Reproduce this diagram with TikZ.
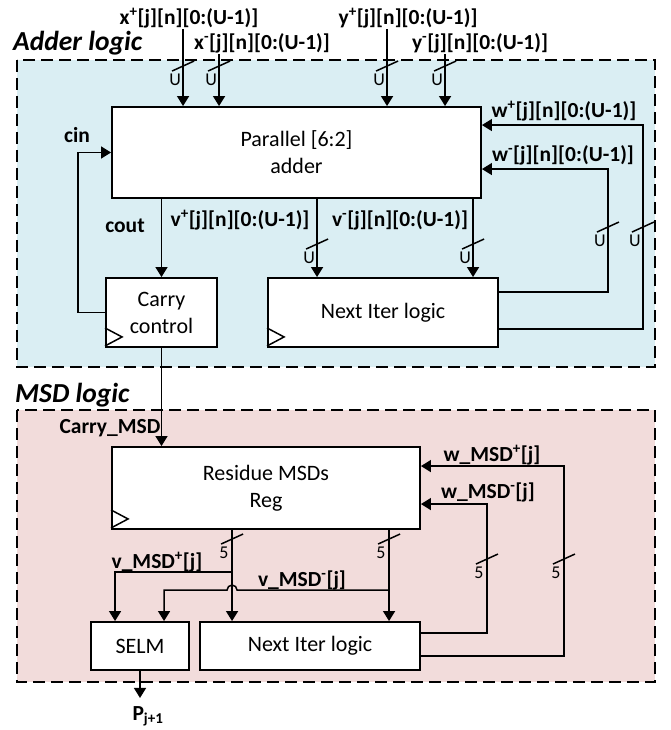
\documentclass[tikz,border=0pt]{standalone}
\usepackage{fontspec}
\setmainfont{Carlito}
\usetikzlibrary{arrows.meta,calc}
\definecolor{adderbg}{HTML}{DAEEF3}
\definecolor{msdbg}{HTML}{F2DCDB}
% bus width mark: pin coordinate, y offset, width text
\newcommand{\busw}[3]{%
  \draw[wire] ($(#1)+(0,#2)+(-11,5)$) -- ++(22,-10);
  \node[wd] at ($(#1)+(0,#2)+(-8,14)$) {#3};}
\newcommand{\clk}[1]{\draw[wire] (#1.south west) ++(0,-2) -- ++(17,-9) -- ++(-17,-9);}

\begin{document}
\begin{tikzpicture}[x=1pt,y=-1pt,
    blk/.style={draw,line width=1.9pt,fill=white,align=center,inner sep=0pt,
      font=\fontsize{22}{27}\selectfont},
    wire/.style={line width=1.5pt},
    sig/.style={wire,-{Triangle[length=10pt,width=12pt]}},
    lbl/.style={font=\bfseries\fontsize{21.5}{25}\selectfont,inner sep=1pt},
    wd/.style={font=\fontsize{18}{20}\selectfont,inner sep=0pt},
    zone/.style={draw,line width=1.4pt,dash pattern=on 12pt off 6pt},
    ttl/.style={font=\bfseries\itshape\fontsize{27.5}{30}\selectfont,anchor=west,inner sep=0pt}]
    \useasboundingbox (0,0) rectangle (670,730);

    % regions
    \draw[zone,fill=adderbg] (17,60) rectangle (655,367);
    \draw[zone,fill=msdbg] (17,410) rectangle (655,682);
    \node[ttl] (addttl) at (13,43) {Adder logic};
    \node[ttl] (msdttl) at (15,395) {MSD logic};

    % adder logic blocks
    \node[blk,minimum width=369,minimum height=91] (adder) at (296.5,152.5) {Parallel [6:2]\\adder};
    \node[blk,minimum width=111,minimum height=69] (carry) at (161.5,312.5) {Carry\\control};
    \node[blk,minimum width=230,minimum height=69] (nxt) at (383,312.5) {Next Iter logic};
    \clk{carry}
    \clk{nxt}

    % MSD logic blocks
    \node[blk,minimum width=308,minimum height=82] (res) at (266,488) {Residue MSDs\\Reg};
    \node[blk,minimum width=98,minimum height=48] (selm) at (140,646) {SELM};
    \node[blk,minimum width=220,minimum height=48] (nxt2) at (310,646) {Next Iter logic};
    \clk{res}

    % inputs
    \node[lbl] (xplbl) at (189,18) {x\textsuperscript{+}[j][n][0:(U-1)]};
    \node[lbl] (xmlbl) at (262,43) {x\textsuperscript{-}[j][n][0:(U-1)]};
    \node[lbl] (yplbl) at (408,18) {y\textsuperscript{+}[j][n][0:(U-1)]};
    \node[lbl] (ymlbl) at (480,43) {y\textsuperscript{-}[j][n][0:(U-1)]};
    \coordinate (xpin) at ($(adder.north west)+(72,0)$);
    \coordinate (xmin) at ($(adder.north west)+(108,0)$);
    \coordinate (ypin) at ($(adder.north west)+(276,0)$);
    \coordinate (ymin) at ($(adder.north west)+(334,0)$);
    \draw[sig] (xplbl.south -| xpin) -- (xpin);
    \draw[sig] (xmlbl.south -| xmin) -- (xmin);
    \draw[sig] (yplbl.south -| ypin) -- (ypin);
    \draw[sig] (ymlbl.south -| ymin) -- (ymin);
    \busw{xpin}{-40}{U}
    \busw{xmin}{-40}{U}
    \busw{ypin}{-40}{U}
    \busw{ymin}{-40}{U}

    % carry loop
    \node[lbl] (cinlbl) at (77,135) {cin};
    \node[lbl] (coutlbl) at (125,226) {cout};
    \draw[sig] (carry.west) -- ++(-27,0) |- (adder.west);
    \draw[sig] (adder.south -| carry.north) -- (carry.north);

    % adder outputs
    \node[lbl] (vplbl) at (240,220) {v\textsuperscript{+}[j][n][0:(U-1)]};
    \node[lbl] (vmlbl) at (400,220) {v\textsuperscript{-}[j][n][0:(U-1)]};
    \coordinate (vpin) at ($(nxt.north west)+(50,0)$);
    \coordinate (vmin) at ($(nxt.north west)+(206,0)$);
    \draw[sig] (adder.south -| vpin) -- (vpin);
    \draw[sig] (adder.south -| vmin) -- (vmin);
    \busw{vpin}{-33}{U}
    \busw{vmin}{-33}{U}

    % feedback w
    \node[lbl] (wplbl) at (564,111) {w\textsuperscript{+}[j][n][0:(U-1)]};
    \node[lbl] (wmlbl) at (563,155) {w\textsuperscript{-}[j][n][0:(U-1)]};
    \coordinate (wpin) at ($(adder.north east)+(0,19)$);
    \coordinate (wmin) at ($(adder.north east)+(0,63)$);
    \coordinate (wmout) at ($(nxt.north east)+(0,15)$);
    \coordinate (wpout) at ($(nxt.north east)+(0,52)$);
    \coordinate (wmturn) at ($(wmout)+(109,0)$);
    \coordinate (wpturn) at ($(wpout)+(144,0)$);
    \draw[sig] (wmout) -- (wmturn) |- (wmin);
    \draw[sig] (wpout) -- (wpturn) |- (wpin);
    \busw{wmturn}{-65}{U}
    \busw{wpturn}{-102}{U}

    % carry to MSD
    \node[lbl] (cmsdlbl) at (110,428) {Carry\_MSD};
    \draw[sig] (carry.south) -- (carry.south |- res.north);

    % MSD feedback
    \node[lbl] (wmsdplbl) at (492,455) {w\_MSD\textsuperscript{+}[j]};
    \node[lbl] (wmsdmlbl) at (488,492) {w\_MSD\textsuperscript{-}[j]};
    \coordinate (wmsdpin) at ($(res.north east)+(0,20)$);
    \coordinate (wmsdmin) at ($(res.north east)+(0,58)$);
    \coordinate (wmsdmturn) at ($(nxt2.north east)+(66,12)$);
    \coordinate (wmsdpturn) at ($(nxt2.north east)+(143,35)$);
    \draw[sig] (nxt2.east |- wmsdmturn) -- (wmsdmturn) |- (wmsdmin);
    \draw[sig] (nxt2.east |- wmsdpturn) -- (wmsdpturn) |- (wmsdpin);
    \busw{wmsdmturn}{-74}{5}
    \busw{wmsdpturn}{-97}{5}

    % MSD outputs
    \node[lbl] (vmsdplbl) at (157,562) {v\_MSD\textsuperscript{+}[j]};
    \node[lbl] (vmsdmlbl) at (302,580) {v\_MSD\textsuperscript{-}[j]};
    \coordinate (npin) at ($(nxt2.north west)+(33,0)$);
    \coordinate (nmin) at ($(nxt2.north west)+(190,0)$);
    \coordinate (selpin) at ($(selm.north west)+(25,0)$);
    \coordinate (selmin) at ($(selm.north west)+(74,0)$);
    \coordinate (vpsplit) at ($(npin)+(0,-49)$);
    \coordinate (vmsplit) at ($(nmin)+(0,-31)$);
    \coordinate (hop) at (vmsplit -| npin);
    \draw[sig] (res.south -| npin) -- (npin);
    \draw[sig] (res.south -| nmin) -- (nmin);
    \busw{npin}{-82}{5}
    \busw{nmin}{-82}{5}
    \draw[sig] (vpsplit) -| (selpin);
    \draw[sig] (vmsplit) -- ($(hop)+(5,0)$) arc[start angle=0,end angle=-180,radius=5] -| (selmin);

    % SELM output
    \coordinate (pout) at ($(selm.south)+(0,27)$);
    \draw[sig] (selm.south) -- (pout);
    \node[lbl] (plbl) at (148,716) {P\textsubscript{j+1}};
\end{tikzpicture}
\end{document}
